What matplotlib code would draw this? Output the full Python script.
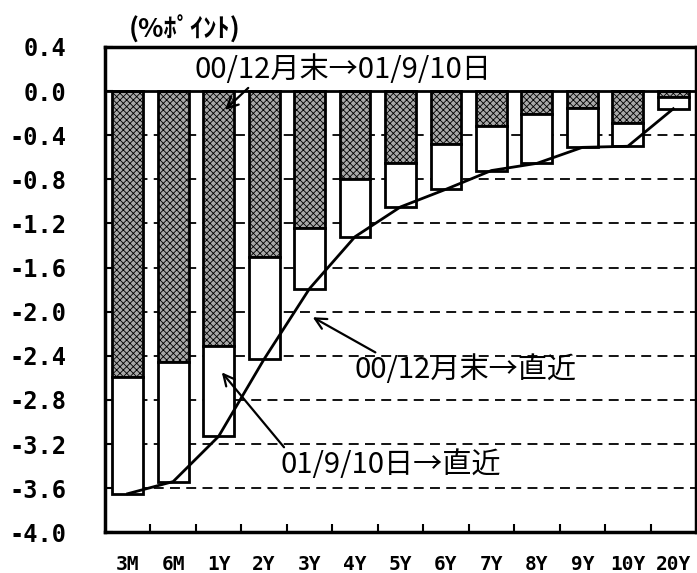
import matplotlib
matplotlib.use("Agg")
import matplotlib.pyplot as plt
import numpy as np

plt.rcParams['hatch.linewidth'] = 0.6

categories = ["3M", "6M", "1Y", "2Y", "3Y", "4Y", "5Y", "6Y", "7Y", "8Y", "9Y", "10Y", "20Y"]
# change from end-Dec 2000 to 2001/9/10 (hatched)
chg_to_0910 = [-2.59, -2.46, -2.31, -1.50, -1.24, -0.80, -0.655, -0.48, -0.32, -0.21, -0.15, -0.29, -0.05]
# change from end-Dec 2000 to latest (total, line)
chg_to_latest = [-3.65, -3.54, -3.13, -2.43, -1.79, -1.32, -1.05, -0.89, -0.72, -0.655, -0.51, -0.50, -0.16]
yticks = [0.4, 0.0, -0.4, -0.8, -1.2, -1.6, -2.0, -2.4, -2.8, -3.2, -3.6, -4.0]

hatched = np.array(chg_to_0910)
total = np.array(chg_to_latest)
white = total - hatched

fig = plt.figure(figsize=(6.97, 5.73), dpi=100)
ax = fig.add_axes([0.1506, 0.071, 0.848, 0.847])

x = np.arange(len(categories))
ax.set_xlim(-0.5, len(categories) - 0.5)
ax.set_ylim(-4.0, 0.4)

for y in yticks[2:-1]:
    ax.axhline(y, color='black', lw=1.3, ls=(0, (5.5, 3.5)), zorder=1)

ax.bar(x, hatched, width=0.68, color='#a8a8a8', edgecolor='black', lw=2,
       hatch='xxxxx', zorder=2)
ax.bar(x, white, bottom=hatched, width=0.68, color='white', edgecolor='black', lw=2, zorder=2)
ax.axhline(0, color='black', lw=2, zorder=3)
ax.plot(x, total, color='black', lw=2, zorder=4)

for s in ax.spines.values():
    s.set_linewidth(2.5)

ax.set_yticks(yticks)
ax.set_yticklabels(["%.1f" % v for v in yticks], family='DejaVu Sans Mono',
                   fontsize=17, fontweight='bold')
ax.set_xticks(x)
ax.set_xticklabels(categories, family='DejaVu Sans Mono', fontsize=14, fontweight='bold')
ax.tick_params(axis='y', direction='in', length=6, width=1.5, pad=28)
ax.tick_params(axis='x', length=0, pad=16)
ax.set_xticks(np.arange(len(categories) - 1) + 0.5, minor=True)
ax.tick_params(axis='x', which='minor', direction='in', length=6, width=1.5)

jp = ['Noto Sans CJK JP']
fig.text(0.185, 0.948, "(%ﾎﾟｲﾝﾄ)", family=jp, fontsize=19,
         fontweight='bold', ha='left', va='center')

arrow = dict(arrowstyle='->', lw=1.6, color='black', mutation_scale=20, shrinkA=0, shrinkB=0)
ax.annotate("00/12月末→01/9/10日", xy=(2.14, -0.17), xytext=(1.48, 0.19),
            fontsize=21, family=jp, ha='left', va='center',
            arrowprops=dict(arrow, relpos=(0.2, 0.1)))
ax.annotate("00/12月末→直近", xy=(4.07, -2.05), xytext=(4.99, -2.53),
            fontsize=21, family=jp, ha='left', va='center',
            arrowprops=dict(arrow, relpos=(0.14, 0.9)))
ax.annotate("01/9/10日→直近", xy=(2.07, -2.55), xytext=(3.35, -3.39),
            fontsize=21, family=jp, ha='left', va='center',
            arrowprops=dict(arrow, relpos=(0.04, 0.9)))

fig.savefig("out.png", dpi=100)
